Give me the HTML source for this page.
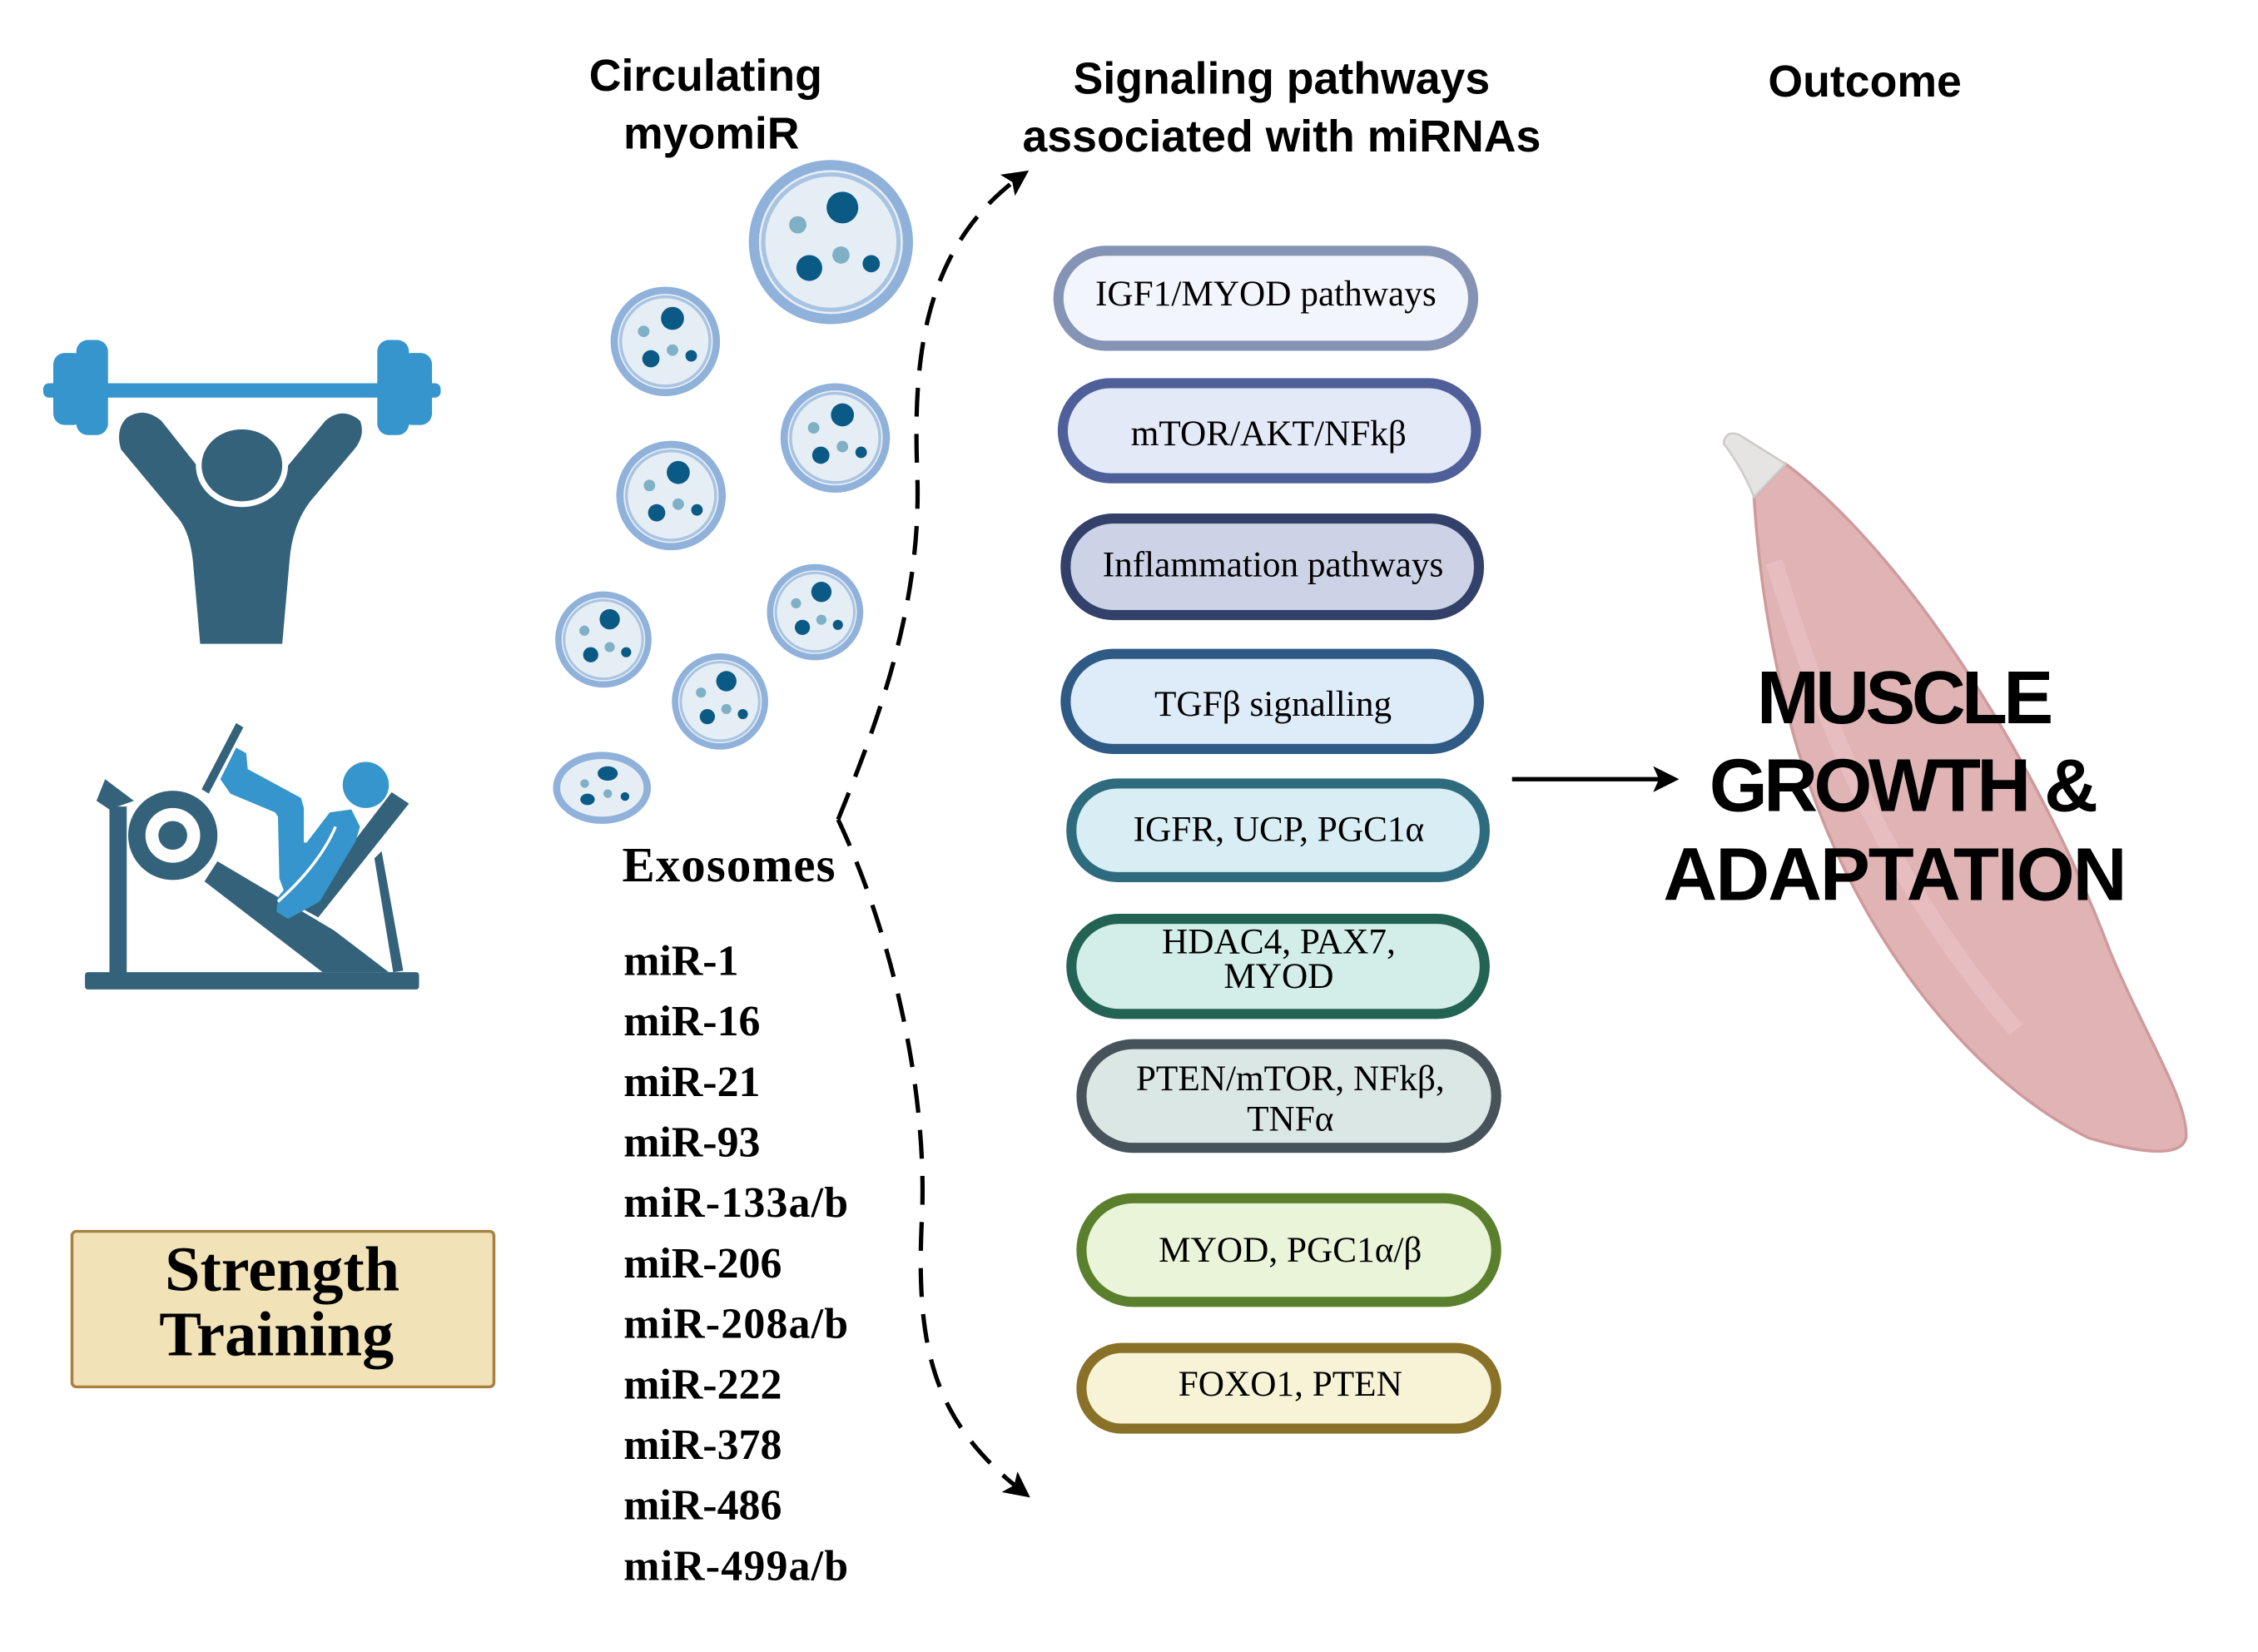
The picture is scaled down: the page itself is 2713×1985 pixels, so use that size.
<!DOCTYPE html>
<html><head><meta charset="utf-8"><style>
html,body{margin:0;padding:0;background:#fff}
svg{display:block}
.sans{font-family:"Liberation Sans",sans-serif;font-weight:bold}
.serif{font-family:"Liberation Serif",serif}
</style></head><body>
<svg width="2713" height="1985" viewBox="0 0 1568 1147" xmlns="http://www.w3.org/2000/svg">
<defs>
<marker id="ah2" markerWidth="18" markerHeight="18" refX="15" refY="9" orient="auto" markerUnits="userSpaceOnUse"><path d="M0,0 L18,9 L0,18 L4,9 Z" fill="#000"/></marker>
</defs>
<rect width="1568" height="1147" fill="#fff"/>

<!-- titles -->
<g class="sans" font-size="31" text-anchor="middle" fill="#000">
<text x="490" y="63">Circulating</text>
<text x="494" y="103">myomiR</text>
<text x="890" y="65">Signaling pathways</text>
<text x="890" y="105">associated with miRNAs</text>
<text x="1295" y="67">Outcome</text>
</g>

<!-- weightlifter -->
<g fill="#3595cc">
<rect x="30" y="266" width="276" height="10" rx="4"/>
<rect x="53" y="236" width="22" height="66" rx="8"/>
<rect x="37" y="245" width="22" height="50" rx="8"/>
<rect x="262" y="236" width="22" height="66" rx="8"/>
<rect x="278" y="245" width="22" height="50" rx="8"/>
</g>
<g fill="#35627b">
<path d="M88,290 Q100,282 112,292 L150,340 Q158,350 168,350 Q178,350 186,340 L226,292 Q238,282 250,292 Q254,302 246,312 L218,345 Q203,362 201,390 L196,447 L139,447 L134,390 Q132,370 124,360 L84,312 Q80,298 88,290 Z"/>
<ellipse cx="168" cy="323" rx="30" ry="27" stroke="#fff" stroke-width="4"/>
</g>

<!-- leg press -->
<g fill="#35627b">
<rect x="59" y="675" width="232" height="12" rx="2"/>
<rect x="76" y="560" width="12" height="116"/>
<polygon points="73,541 93,556 76,562 67,556"/>
<circle cx="120" cy="580" r="31"/>
<polygon points="140,548 164,502 169,505 145,551"/>
<polygon points="142,612 151,598 232,646 270,675 224,675"/>
<polygon points="272,550 284,558 221,637 210,631"/>
<polygon points="260,596 265,591 280,674 273,675"/>
</g>
<circle cx="120" cy="580" r="19" fill="#fff"/>
<circle cx="120" cy="580" r="10" fill="#35627b"/>
<g fill="#3595cc">
<circle cx="254" cy="545" r="16"/>
<polygon points="153,541 164,519 171,523 172,534 209,554 211,561 211,585 213,585 229,564 244,562 250,574 247,584 222,626 200,638 192,633 193,623 197,618 194,610 193,567 191,564 160,551"/>
</g>
<path d="M233,574 Q222,600 193,626" fill="none" stroke="#fff" stroke-width="2"/>

<!-- Strength training -->
<rect x="50" y="855" width="293" height="108" rx="3" fill="#f1e2b7" stroke="#a8803f" stroke-width="2"/>
<g class="serif" font-weight="bold" font-size="44" text-anchor="middle">
<text x="196" y="896">Strength</text>
<text x="192" y="941">Training</text>
</g>

<!-- exosomes -->
<g>
<g transform="translate(577,168)">
<circle r="57" fill="#8fb1da"/><circle r="50" fill="#e6eef5"/><circle r="47" fill="none" stroke="#a9c4e2" stroke-width="3"/>
<circle cx="8" cy="-24" r="11" fill="#0b5a85"/><circle cx="-23" cy="-12" r="6" fill="#7fb0c6"/><circle cx="7" cy="9" r="6" fill="#7fb0c6"/><circle cx="-15" cy="18" r="9" fill="#0b5a85"/><circle cx="28" cy="15" r="6" fill="#0b5a85"/>
</g>
<g id="e1" transform="translate(462,237)">
<circle r="38" fill="#8fb1da"/><circle r="33" fill="#e6eef5"/><circle r="31" fill="none" stroke="#a9c4e2" stroke-width="2"/>
<circle cx="5" cy="-16" r="8" fill="#0b5a85"/><circle cx="-15" cy="-7" r="4" fill="#7fb0c6"/><circle cx="5" cy="6" r="4" fill="#7fb0c6"/><circle cx="-10" cy="12" r="6" fill="#0b5a85"/><circle cx="18" cy="10" r="4" fill="#0b5a85"/>
</g>
<use href="#e1" transform="translate(118,67)"/>
<use href="#e1" transform="translate(4,107)"/>
<use href="#e1" transform="translate(566,425) scale(0.88) translate(-462,-237)"/>
<use href="#e1" transform="translate(419,444) scale(0.88) translate(-462,-237)"/>
<use href="#e1" transform="translate(500,487) scale(0.88) translate(-462,-237)"/>
<g transform="translate(418,547)">
<ellipse rx="34" ry="25" fill="#8fb1da"/><ellipse rx="29" ry="20" fill="#e6eef5"/>
<ellipse cx="4" cy="-10" rx="7" ry="5" fill="#0b5a85"/><circle cx="-12" cy="-3" r="3" fill="#7fb0c6"/><circle cx="4" cy="4" r="3" fill="#7fb0c6"/><ellipse cx="-10" cy="8" rx="5" ry="4" fill="#0b5a85"/><circle cx="16" cy="6" r="3" fill="#0b5a85"/>
</g>
</g>

<!-- dashed curves -->
<path d="M582,569 C610,500 640,420 637,330 C634,250 640,170 712,120" fill="none" stroke="#000" stroke-width="3" stroke-dasharray="20,12" marker-end="url(#ah2)"/>
<path d="M582,569 C620,650 645,760 640,850 C636,940 650,990 713,1038" fill="none" stroke="#000" stroke-width="3" stroke-dasharray="20,12" marker-end="url(#ah2)"/>

<!-- exosomes text -->
<g class="serif" font-weight="bold" fill="#000">
<text x="432" y="612" font-size="34" textLength="148">Exosomes</text>
<g font-size="30">
<text x="433" y="677">miR-1</text>
<text x="433" y="719">miR-16</text>
<text x="433" y="761">miR-21</text>
<text x="433" y="803">miR-93</text>
<text x="433" y="845" textLength="156">miR-133a/b</text>
<text x="433" y="887">miR-206</text>
<text x="433" y="929" textLength="156">miR-208a/b</text>
<text x="433" y="971">miR-222</text>
<text x="433" y="1013">miR-378</text>
<text x="433" y="1055">miR-486</text>
<text x="433" y="1097" textLength="156">miR-499a/b</text>
</g>
</g>

<!-- pills -->
<g stroke-width="7" class="serif" font-size="25" text-anchor="middle" fill="#000">
<rect x="735" y="174" width="288" height="66" rx="33" fill="#f2f5fb" stroke="#8593b5"/>
<text x="879" y="212">IGF1/MYOD pathways</text>
<rect x="738" y="266" width="287" height="66" rx="33" fill="#e4e9f8" stroke="#4f5f99"/>
<text x="881" y="309">mTOR/AKT/NFkβ</text>
<rect x="740" y="360" width="287" height="67" rx="33" fill="#cdd3e6" stroke="#33406a"/>
<text x="884" y="400">Inflammation pathways</text>
<rect x="740" y="454" width="287" height="66" rx="33" fill="#deebf8" stroke="#2e5a85"/>
<text x="884" y="497">TGFβ signalling</text>
<rect x="744" y="544" width="287" height="65" rx="32" fill="#d8eef4" stroke="#2f6b7f"/>
<text x="888" y="584">IGFR, UCP, PGC1α</text>
<rect x="744" y="638" width="287" height="66" rx="33" fill="#d3ede8" stroke="#236353"/>
<text x="888" y="662">HDAC4, PAX7,</text>
<text x="888" y="686">MYOD</text>
<rect x="751" y="725" width="288" height="72" rx="36" fill="#dbe7e5" stroke="#47535a"/>
<text x="896" y="757">PTEN/mTOR, NFkβ,</text>
<text x="896" y="785">TNFα</text>
<rect x="751" y="832" width="288" height="72" rx="36" fill="#eaf4d8" stroke="#5a7f2d"/>
<text x="896" y="876">MYOD, PGC1α/β</text>
<rect x="751" y="936" width="288" height="56" rx="28" fill="#f7f3d6" stroke="#8a7128"/>
<text x="896" y="969">FOXO1, PTEN</text>
</g>

<!-- arrow -->
<line x1="1050" y1="541" x2="1163" y2="541" stroke="#000" stroke-width="3" marker-end="url(#ah2)"/>

<!-- muscle -->
<path d="M1218,345 L1240,322 C1330,390 1420,540 1465,660 C1490,720 1520,765 1518,790 C1515,803 1490,802 1450,790 C1370,750 1300,660 1262,560 C1235,490 1222,410 1218,345 Z" fill="#e0b3b5" stroke="#cf9a9c" stroke-width="2"/>
<path d="M1232,390 C1260,480 1300,600 1400,715" fill="none" stroke="#e9c2c3" stroke-width="12" opacity="0.7"/>
<path d="M1197,308 Q1198,298 1208,302 L1240,322 L1218,345 Q1210,325 1197,308 Z" fill="#e6e3e3" stroke="#cfcaca" stroke-width="1.5"/>

<g class="sans" font-size="52" text-anchor="middle" fill="#000">
<text x="1323" y="502" textLength="206">MUSCLE</text>
<text x="1322" y="563" textLength="270">GROWTH &amp;</text>
<text x="1316" y="625" textLength="322">ADAPTATION</text>
</g>
</svg>
</body></html>
